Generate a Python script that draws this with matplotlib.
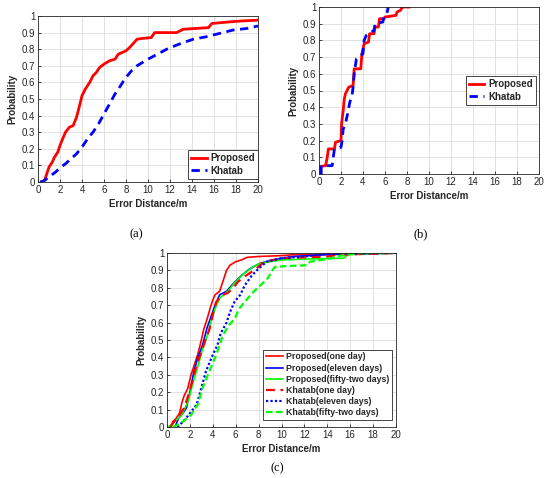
import matplotlib
matplotlib.use("Agg")
import matplotlib.pyplot as plt

plt.rcParams['font.family'] = ['Liberation Sans', 'DejaVu Sans']

# ---- (a) ----
a_prop_x = [0.3, 0.6, 0.8, 1.0, 1.3, 1.5, 1.8, 2.0, 2.3, 2.5, 2.85, 3.2, 3.5, 3.7, 4.0, 4.3, 4.7, 5.0, 5.3,
            5.6, 6.0, 6.5, 7.0, 7.3, 8.0, 8.4, 9.0, 9.5, 10.3, 10.6, 12.6, 13.2, 15.5, 15.8, 17.5, 18.5, 20.0]
a_prop_y = [0.0, 0.01, 0.05, 0.09, 0.12, 0.15, 0.18, 0.22, 0.27, 0.30, 0.33, 0.34, 0.39, 0.44, 0.52, 0.56, 0.60,
            0.64, 0.66, 0.69, 0.71, 0.73, 0.74, 0.77, 0.79, 0.815, 0.86, 0.865, 0.87, 0.90, 0.90, 0.92, 0.93,
            0.955, 0.965, 0.97, 0.975]
a_kh_x = [0.2, 0.5, 0.8, 1.2, 1.6, 2.0, 2.5, 3.0, 3.5, 4.0, 4.5, 5.0, 5.5, 6.0, 6.5, 7.0, 7.5, 8.0, 8.5, 9.0,
          10.0, 11.0, 11.7, 12.8, 14.1, 15.3, 16.5, 17.7, 19.0, 20.0]
a_kh_y = [0.0, 0.005, 0.02, 0.04, 0.06, 0.085, 0.11, 0.14, 0.17, 0.21, 0.26, 0.30, 0.35, 0.41, 0.47, 0.53, 0.58,
          0.63, 0.67, 0.70, 0.74, 0.775, 0.80, 0.83, 0.86, 0.875, 0.895, 0.915, 0.925, 0.94]

# ---- (b) ----
b_prop_x = [0.1, 0.1, 0.6, 0.75, 0.85, 1.4, 1.5, 2.0, 2.05, 2.2, 2.3, 2.4, 2.7, 3.1, 3.2, 3.8, 3.9, 4.1, 4.5,
            4.6, 5.0, 5.1, 5.4, 5.5, 5.9, 6.0, 7.0, 7.1, 7.4, 7.6, 8.2]
b_prop_y = [0.0, 0.045, 0.05, 0.10, 0.15, 0.15, 0.19, 0.20, 0.30, 0.38, 0.45, 0.48, 0.52, 0.53, 0.63, 0.63,
            0.72, 0.78, 0.79, 0.84, 0.84, 0.88, 0.88, 0.93, 0.93, 0.94, 0.95, 0.97, 0.98, 1.0, 1.0]
b_kh_x = [0.2, 0.2, 1.2, 1.3, 1.4, 2.0, 2.1, 2.2, 2.4, 2.6, 2.8, 3.0, 3.1, 3.2, 3.4, 4.0, 4.1, 4.3, 5.0, 5.1,
          5.8, 5.9, 6.2, 6.3]
b_kh_y = [0.0, 0.05, 0.05, 0.10, 0.15, 0.16, 0.20, 0.27, 0.30, 0.36, 0.43, 0.47, 0.52, 0.60, 0.69, 0.72, 0.80,
          0.83, 0.86, 0.90, 0.91, 0.94, 0.97, 1.0]

# ---- (c) ----
c_p1_x = [0.3, 0.5, 0.8, 1.1, 1.3, 1.5, 1.8, 2.1, 2.4, 2.7, 3.0, 3.2, 3.5, 3.8, 4.0, 4.2, 4.6, 4.8, 5.0, 5.2,
          5.5, 6.0, 6.5, 7.0, 8.0, 10.0, 11.0, 16.0, 20.0]
c_p1_y = [0.0, 0.03, 0.05, 0.08, 0.14, 0.18, 0.22, 0.30, 0.36, 0.42, 0.50, 0.56, 0.62, 0.69, 0.73, 0.76, 0.78,
          0.82, 0.86, 0.90, 0.93, 0.95, 0.96, 0.975, 0.98, 0.985, 0.99, 0.995, 1.0]
c_p11_x = [0.7, 1.0, 1.4, 1.7, 2.0, 2.35, 2.7, 3.1, 3.5, 3.9, 4.2, 4.6, 5.2, 5.6, 6.1, 6.5, 7.25, 8.1, 9.0,
           10.0, 11.0, 14.0, 16.0, 20.0]
c_p11_y = [0.0, 0.05, 0.08, 0.11, 0.20, 0.32, 0.40, 0.47, 0.57, 0.645, 0.70, 0.76, 0.78, 0.81, 0.845, 0.87,
           0.91, 0.94, 0.955, 0.97, 0.98, 0.99, 0.995, 1.0]
c_p52_x = [0.1, 0.5, 1.0, 1.3, 1.85, 2.3, 2.7, 3.1, 3.6, 3.9, 4.2, 4.6, 5.3, 6.0, 6.6, 7.4, 8.1, 9.0, 10.0,
           12.0, 15.4, 15.8, 17.0, 20.0]
c_p52_y = [0.0, 0.02, 0.05, 0.07, 0.15, 0.26, 0.35, 0.445, 0.54, 0.62, 0.68, 0.74, 0.78, 0.835, 0.875, 0.915,
           0.94, 0.95, 0.96, 0.965, 0.97, 0.99, 0.995, 1.0]
c_k1_x = [0.3, 0.6, 1.0, 1.5, 1.9, 2.3, 2.6, 3.0, 3.4, 3.7, 4.0, 4.3, 4.9, 5.3, 5.8, 6.2, 6.9, 7.8, 8.5, 10.0,
          12.0, 14.0, 15.0, 20.0]
c_k1_y = [0.0, 0.03, 0.06, 0.11, 0.19, 0.285, 0.36, 0.43, 0.51, 0.56, 0.645, 0.72, 0.76, 0.77, 0.80, 0.835,
          0.87, 0.91, 0.95, 0.97, 0.975, 0.98, 0.99, 1.0]
c_k11_x = [0.9, 1.4, 1.9, 2.6, 3.0, 3.4, 4.0, 4.4, 4.7, 5.2, 5.5, 5.9, 6.4, 6.8, 7.4, 8.0, 8.7, 10.0, 12.0,
           13.8, 20.0]
c_k11_y = [0.0, 0.03, 0.07, 0.13, 0.225, 0.32, 0.415, 0.47, 0.54, 0.60, 0.66, 0.72, 0.76, 0.815, 0.87, 0.91,
           0.95, 0.97, 0.98, 0.995, 1.0]
c_k52_x = [0.5, 1.2, 2.1, 2.7, 3.1, 3.7, 4.2, 4.6, 4.9, 5.4, 5.9, 6.3, 6.8, 7.6, 8.1, 8.8, 9.4, 10.5, 12.2,
           12.5, 14.0, 15.5, 17.0, 20.0]
c_k52_y = [0.0, 0.02, 0.07, 0.13, 0.225, 0.32, 0.40, 0.47, 0.53, 0.585, 0.62, 0.68, 0.72, 0.78, 0.81, 0.855,
           0.92, 0.925, 0.93, 0.95, 0.965, 0.99, 1.0, 1.0]

x_ticks = list(range(0, 21, 2))
y_ticks = [i / 10 for i in range(11)]
y_labels = ['0'] + ['%.1f' % v for v in y_ticks[1:-1]] + ['1']

RED = '#ff0000'
BLUE = '#0000ff'
GREEN = '#00ff00'
DARK = '#262626'


def style_axes(ax):
    ax.set_xlim(0, 20)
    ax.set_ylim(0, 1)
    ax.set_xticks(x_ticks)
    ax.set_yticks(y_ticks)
    ax.set_yticklabels(y_labels)
    ax.tick_params(direction='in', length=2.5, width=0.6, labelsize=7, colors=DARK, pad=2)
    ax.grid(True, color='#dcdcdc', linewidth=0.6)
    ax.set_axisbelow(True)
    for s in ax.spines.values():
        s.set_color(DARK)
        s.set_linewidth(0.6)
    ax.set_xlabel('Error Distance/m', fontsize=7, fontweight='bold', color=DARK, labelpad=3)
    ax.set_ylabel('Probability', fontsize=7, fontweight='bold', color=DARK, labelpad=3)


def style_legend(leg):
    leg.get_frame().set_edgecolor(DARK)
    leg.get_frame().set_linewidth(0.6)
    for t in leg.get_texts():
        t.set_fontweight('bold')
        t.set_color(DARK)


fig = plt.figure(figsize=(5.5, 4.78), dpi=100)

# (a)
ax1 = fig.add_axes([38 / 550, 1 - 182 / 478, 220 / 550, 166 / 478])
ax1.plot(a_prop_x, a_prop_y, color=RED, lw=2, label='Proposed')
ax1.plot(a_kh_x, a_kh_y, color=BLUE, lw=2, ls=(0, (3, 2)), label='Khatab')
style_axes(ax1)
leg = ax1.legend(loc='lower right', bbox_to_anchor=(1.0, 0.02), borderaxespad=0, fontsize=7,
                 fancybox=False, framealpha=1, handlelength=1.6, handletextpad=0.4,
                 borderpad=0.3, labelspacing=0.25)
style_legend(leg)

# (b)
ax2 = fig.add_axes([319 / 550, 1 - 174 / 478, 220 / 550, 167 / 478])
ax2.plot(b_prop_x, b_prop_y, color=RED, lw=2, label='Proposed')
ax2.plot(b_kh_x, b_kh_y, color=BLUE, lw=2, ls=(0, (3, 2)), label='Khatab')
style_axes(ax2)
leg = ax2.legend(loc='center right', bbox_to_anchor=(0.986, 0.5), borderaxespad=0, fontsize=7,
                 fancybox=False, framealpha=1, handlelength=1.6, handletextpad=0.4,
                 borderpad=0.3, labelspacing=0.25)
style_legend(leg)

# (c)
ax3 = fig.add_axes([167 / 550, 1 - 427 / 478, 229 / 550, 174 / 478])
ax3.plot(c_p1_x, c_p1_y, color=RED, lw=1.2, label='Proposed(one day)')
ax3.plot(c_p11_x, c_p11_y, color=BLUE, lw=1.2, label='Proposed(eleven days)')
ax3.plot(c_p52_x, c_p52_y, color=GREEN, lw=1.2, label='Proposed(fifty-two days)')
ax3.plot(c_k1_x, c_k1_y, color=RED, lw=1.6, ls=(0, (4, 2.5)), label='Khatab(one day)')
ax3.plot(c_k11_x, c_k11_y, color=BLUE, lw=1.6, ls=(0, (1, 1)), label='Khatab(eleven days)')
ax3.plot(c_k52_x, c_k52_y, color=GREEN, lw=1.6, ls=(0, (3, 1.5)), label='Khatab(fifty-two days)')
style_axes(ax3)
leg = ax3.legend(loc='lower right', bbox_to_anchor=(0.983, 0.04), borderaxespad=0, fontsize=6.3,
                 fancybox=False, framealpha=1, handlelength=2.0, handletextpad=0.3,
                 borderpad=0.3, labelspacing=0.25)
style_legend(leg)

fig.text(136 / 550, 1 - 234 / 478, '(a)', family='Liberation Serif', fontsize=9, ha='center', va='center')
fig.text(421 / 550, 1 - 234 / 478, '(b)', family='Liberation Serif', fontsize=9, ha='center', va='center')
fig.text(277 / 550, 1 - 468 / 478, '(c)', family='Liberation Serif', fontsize=9, ha='center', va='center')

fig.savefig('out.png', dpi=100)
